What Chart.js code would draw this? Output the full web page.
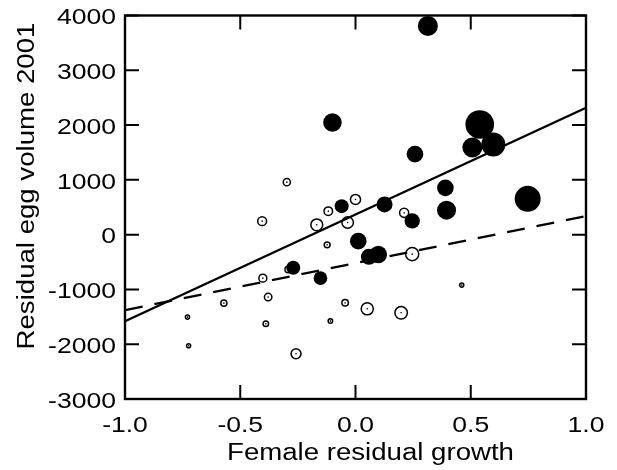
<!DOCTYPE html>
<html>
<head>
<meta charset="utf-8">
<script src="https://cdn.jsdelivr.net/npm/chart.js@4"></script>
<style>
  html, body { margin: 0; padding: 0; background: #fff; }
  #chart-wrap { width: 617px; height: 470px; }
</style>
</head>
<body>
<div id="chart-wrap"><canvas id="egg-chart" width="617" height="470"></canvas></div>
<script>
// axis ticks
const xTickValues = [-1, -0.5, 0, 0.5, 1];
const yTickValues = [-3000, -2000, -1000, 0, 1000, 2000, 3000, 4000];

// filled circles
const filledGrowth = [-0.10, 0.314, 0.539, 0.507, 0.598, 0.258, 0.39, 0.747, 0.395, 0.126, -0.06, 0.012, 0.058, 0.099, 0.246, -0.27, -0.152];
const filledEggVolume = [2047, 3810, 2011, 1591, 1646, 1469, 854, 653, 447, 551, 520, -119, -405, -362, 252, -605, -794];
const filledSize = [9.3, 10, 14.3, 10, 12, 8.3, 8.3, 13, 9.5, 8, 7, 8.3, 8, 8.7, 7.7, 7, 6.8];

// open circles
const openGrowth = [-0.298, 0.0, -0.118, -0.405, -0.168, -0.034, -0.123, 0.211, 0.246, -0.292, -0.402, -0.379, -0.571, -0.045, -0.729, -0.389, -0.109, -0.724, -0.258, 0.051, 0.198, 0.461];
const openEggVolume = [958, 642, 429, 246, 179, 222, -186, 398, -356, -635, -794, -1140, -1250, -1245, -1505, -1628, -1578, -2029, -2175, -1354, -1427, -921];
const openSize = [4.3, 5.8, 5, 5.2, 6.7, 6.5, 3.7, 5.3, 7.3, 4, 4.7, 4.5, 3.8, 4, 2.8, 3.5, 3, 2.8, 5.7, 6.8, 7, 2.8];

// regression lines
const solidFitX = [-1, 1];
const solidFitY = [-1580, 2315];
const dashedFitX = [-1, 1];
const dashedFitY = [-1380, 340];

const TEXT_STRETCH = 1.18;
const TITLE_STRETCH = 1.2;
const TICK_LEN = 14;
const OPEN_BORDER = 1.5;
const FONT_FAMILY = "'Liberation Sans', Arial, sans-serif";

function points(xs, ys, rs) {
  return xs.map((x, i) => rs ? { x: x, y: ys[i], r: rs[i] } : { x: x, y: ys[i] });
}

function noScalePadding(scale) {
  scale.paddingTop = 0;
  scale.paddingBottom = 0;
  scale.paddingLeft = 0;
  scale.paddingRight = 0;
}

// the figure's lettering is a bit wide, so glyphs get stretched sideways
const framePlugin = {
  id: "frame",
  beforeDraw(chart) {
    const plain = CanvasRenderingContext2D.prototype.fillText;
    chart.ctx.fillText = function (text, x, y, maxWidth) {
      this.save();
      this.translate(x, y);
      this.scale(TEXT_STRETCH, 1);
      if (maxWidth === undefined) plain.call(this, text, 0, 0);
      else plain.call(this, text, 0, 0, maxWidth / TEXT_STRETCH);
      this.restore();
    };
  },
  beforeDatasetsDraw(chart) {
    const ctx = chart.ctx;
    delete ctx.fillText;

    const { left, right, top, bottom } = chart.chartArea;
    const xs = chart.scales.x;
    const ys = chart.scales.y;

    ctx.save();
    ctx.strokeStyle = "#000";
    ctx.lineWidth = 2;
    ctx.beginPath();
    xTickValues.forEach(v => {
      const px = xs.getPixelForValue(v);
      ctx.moveTo(px, bottom);
      ctx.lineTo(px, bottom - TICK_LEN);
      ctx.moveTo(px, top);
      ctx.lineTo(px, top + TICK_LEN);
    });
    yTickValues.forEach(v => {
      const py = ys.getPixelForValue(v);
      ctx.moveTo(left, py);
      ctx.lineTo(left + TICK_LEN, py);
      ctx.moveTo(right, py);
      ctx.lineTo(right - TICK_LEN, py);
    });
    ctx.stroke();
    ctx.lineWidth = 2.4;
    ctx.strokeRect(left, top, right - left, bottom - top);
    ctx.restore();
  },
  afterDraw(chart) {
    const ctx = chart.ctx;
    ctx.save();
    ctx.fillStyle = "#000";
    ctx.textAlign = "center";
    ctx.textBaseline = "alphabetic";
    ctx.font = "23px " + FONT_FAMILY;

    ctx.save();
    ctx.translate(370.5, 460);
    ctx.scale(TITLE_STRETCH, 1);
    ctx.fillText("Female residual growth", 0, 0);
    ctx.restore();

    ctx.save();
    ctx.translate(33.5, 186);
    ctx.rotate(-Math.PI / 2);
    ctx.scale(TITLE_STRETCH, 1);
    ctx.fillText("Residual egg volume 2001", 0, 0);
    ctx.restore();

    ctx.restore();
  }
};

const tickFont = { family: FONT_FAMILY, size: 22.5 };

new Chart(document.getElementById("egg-chart"), {
  type: "bubble",
  data: {
    datasets: [
      {
        label: "Filled",
        data: points(filledGrowth, filledEggVolume, filledSize),
        backgroundColor: "#000",
        borderWidth: 0,
        clip: false,
        order: 1
      },
      {
        type: "line",
        label: "Solid fit",
        data: points(solidFitX, solidFitY),
        borderColor: "#000",
        borderWidth: 2.3,
        pointRadius: 0,
        fill: false,
        order: 2
      },
      {
        type: "line",
        label: "Dashed fit",
        data: points(dashedFitX, dashedFitY),
        borderColor: "#000",
        borderWidth: 2.3,
        borderDash: [18, 12],
        pointRadius: 0,
        fill: false,
        order: 2
      },
      {
        label: "Open centres",
        data: points(openGrowth, openEggVolume, openGrowth.map(() => 0.8)),
        backgroundColor: "#000",
        borderWidth: 0,
        order: 3
      },
      {
        label: "Open",
        data: points(openGrowth, openEggVolume, openSize.map(r => r - OPEN_BORDER / 2)),
        backgroundColor: "#fff",
        borderColor: "#000",
        borderWidth: OPEN_BORDER,
        order: 4
      }
    ]
  },
  options: {
    responsive: false,
    animation: false,
    layout: { padding: { top: 15.5, right: 31, bottom: 0, left: 0 } },
    plugins: {
      legend: { display: false },
      tooltip: { enabled: false }
    },
    scales: {
      x: {
        type: "linear",
        min: -1,
        max: 1,
        afterBuildTicks: scale => { scale.ticks = xTickValues.map(v => ({ value: v })); },
        afterFit: scale => { scale.height = 71; noScalePadding(scale); },
        grid: { display: false, drawTicks: false },
        border: { display: false },
        ticks: {
          color: "#000",
          font: tickFont,
          padding: 13,
          maxRotation: 0,
          callback: value => Number(value).toFixed(1)
        }
      },
      y: {
        type: "linear",
        min: -3000,
        max: 4000,
        afterBuildTicks: scale => { scale.ticks = yTickValues.map(v => ({ value: v })); },
        afterFit: scale => { scale.width = 125; noScalePadding(scale); },
        grid: { display: false, drawTicks: false },
        border: { display: false },
        ticks: {
          color: "#000",
          font: tickFont,
          padding: 9,
          labelOffset: 2.5,
          callback: value => String(value)
        }
      }
    }
  },
  plugins: [framePlugin]
});
</script>
</body>
</html>
